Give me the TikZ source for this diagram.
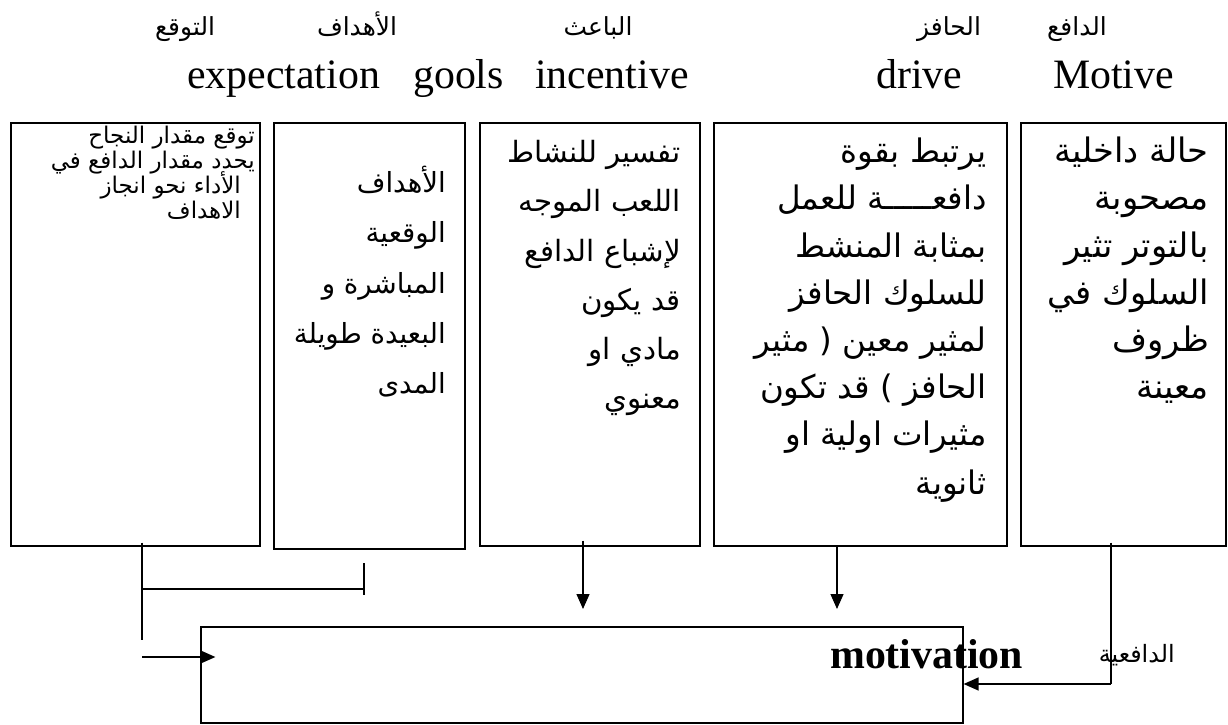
\documentclass[tikz,border=0pt]{standalone}
\usepackage{fontspec}
\setmainfont{Liberation Serif}
\newfontfamily\arabicfont[Script=Arabic]{DejaVu Sans}
\TeXXeTstate=1
\usetikzlibrary{arrows.meta}
\newlength\artmpw
\newcommand\ArReset{\global\artmpw=0pt\relax}
\newcommand\ArMeas[1]{\setbox0=\hbox{\fontsize{10}{12}\arabicfont #1}\ifdim\wd0>\artmpw\global\artmpw=\wd0\relax\fi}
\newcommand\ArSize[2]{\pgfmathsetmacro\artmpsz{10*#2*1.00375/\artmpw}\global\let#1\artmpsz}
\AtBeginDocument{%
  \ArReset\ArMeas{\beginR الأهداف\endR}\ArSize\fsLab{80}%
  \ArReset\ArMeas{\beginR توقع مقدار النجاح\endR}\ArMeas{\beginR يحدد مقدار الدافع في\endR}\ArSize\fsA{204}%
  \ArReset\ArMeas{\beginR البعيدة طويلة\endR}\ArMeas{\beginR المباشرة و\endR}\ArSize\fsB{152}%
  \ArReset\ArMeas{\beginR تفسير للنشاط\endR}\ArMeas{\beginR اللعب الموجه\endR}\ArMeas{\beginR لإشباع الدافع\endR}\ArSize\fsC{173}%
  \ArReset\ArMeas{\beginR لمثير معين ( مثير\endR}\ArMeas{\beginR الحافز ) قد تكون\endR}\ArSize\fsD{232}%
  \ArReset\ArMeas{\beginR حالة داخلية\endR}\ArMeas{\beginR بالتوتر تثير\endR}\ArMeas{\beginR السلوك في\endR}\ArSize\fsE{161}%
  \ArReset\ArMeas{\beginR الدافعية\endR}\ArSize\fsF{76}%
}
\begin{document}
\begin{tikzpicture}[x=1bp,y=-1bp,
  box/.style={draw,line width=1.2bp,inner sep=0,rectangle},
  eng/.style={anchor=base west,inner sep=0,font=\fontsize{42}{48}\selectfont},
  lab/.style={anchor=base,inner sep=0,font=\fontsize{\fsLab}{\fsLab}\arabicfont},
  tA/.style={anchor=base east,inner sep=0,font=\fontsize{\fsA}{\fsA}\arabicfont},
  tB/.style={anchor=base east,inner sep=0,font=\fontsize{\fsB}{\fsB}\arabicfont},
  tC/.style={anchor=base east,inner sep=0,font=\fontsize{\fsC}{\fsC}\arabicfont},
  tD/.style={anchor=base east,inner sep=0,font=\fontsize{\fsD}{\fsD}\arabicfont},
  tE/.style={anchor=base east,inner sep=0,font=\fontsize{\fsE}{\fsE}\arabicfont},
  ln/.style={line width=1.3bp},
  arr/.style={line width=1.3bp,-{Triangle[length=15bp,width=13bp]}}]
\useasboundingbox (0,0) rectangle (1228,725);
\fill[white] (0,0) rectangle (1228,725);

% top Arabic labels
\node[lab] (t1) at (185,36) {\beginR التوقع\endR};
\node[lab] (t2) at (357,36) {\beginR الأهداف\endR};
\node[lab] (t3) at (598,36) {\beginR الباعث\endR};
\node[lab] (t4) at (949,36) {\beginR الحافز\endR};
\node[lab] (t5) at (1077,36) {\beginR الدافع\endR};

% English labels
\node[eng] (e1) at (187,89) {expectation};
\node[eng] (e2) at (413,89) {gools};
\node[eng] (e3) at (535,89) {incentive};
\node[eng] (e4) at (876,89) {drive};
\node[eng] (e5) at (1053,89) {Motive};

% boxes
\node[box,minimum width=249bp,minimum height=423bp] (b1) at (135.5,334.5) {};
\node[box,minimum width=191bp,minimum height=426bp] (b2) at (369.5,336) {};
\node[box,minimum width=220bp,minimum height=423bp] (b3) at (590,334.5) {};
\node[box,minimum width=293bp,minimum height=423bp] (b4) at (860.5,334.5) {};
\node[box,minimum width=205bp,minimum height=423bp] (b5) at (1123.5,334.5) {};
\node[box,minimum width=762bp,minimum height=96bp] (m) at (582,675) {};

% box 1
\node[tA] (b1l1) at (255,144) {\beginR توقع مقدار النجاح\endR};
\node[tA] (b1l2) at (255,169) {\beginR يحدد مقدار الدافع في\endR};
\node[tA] (b1l3) at (241,194) {\beginR الأداء نحو انجاز\endR};
\node[tA] (b1l4) at (241,219) {\beginR الاهداف\endR};
% box 2
\node[tB] (b2l1) at (446,193) {\beginR الأهداف\endR};
\node[tB] (b2l2) at (446,243) {\beginR الوقعية\endR};
\node[tB] (b2l3) at (446,293) {\beginR المباشرة و\endR};
\node[tB] (b2l4) at (446,343) {\beginR البعيدة طويلة\endR};
\node[tB] (b2l5) at (446,393) {\beginR المدى\endR};
% box 3
\node[tC] (b3l1) at (681,163) {\beginR تفسير للنشاط\endR};
\node[tC] (b3l2) at (681,212) {\beginR اللعب الموجه\endR};
\node[tC] (b3l3) at (681,261) {\beginR لإشباع الدافع\endR};
\node[tC] (b3l4) at (681,310) {\beginR قد يكون\endR};
\node[tC] (b3l5) at (681,359) {\beginR مادي او\endR};
\node[tC] (b3l6) at (681,408) {\beginR معنوي\endR};
% box 4
\node[tD] (b4l1) at (987,163) {\beginR يرتبط بقوة\endR};
\node[tD] (b4l2) at (987,210) {\beginR دافعـــــة للعمل\endR};
\node[tD] (b4l3) at (987,257) {\beginR بمثابة المنشط\endR};
\node[tD] (b4l4) at (987,304) {\beginR للسلوك الحافز\endR};
\node[tD] (b4l5) at (987,351) {\beginR لمثير معين ( مثير\endR};
\node[tD] (b4l6) at (987,398) {\beginR الحافز ) قد تكون\endR};
\node[tD] (b4l7) at (987,445) {\beginR مثيرات اولية او\endR};
\node[tD] (b4l8) at (987,494) {\beginR ثانوية\endR};
% box 5
\node[tE] (b5l1) at (1209,163) {\beginR حالة داخلية\endR};
\node[tE] (b5l2) at (1209,210) {\beginR مصحوبة\endR};
\node[tE] (b5l3) at (1209,257) {\beginR بالتوتر تثير\endR};
\node[tE] (b5l4) at (1209,304) {\beginR السلوك في\endR};
\node[tE] (b5l5) at (1209,351) {\beginR ظروف\endR};
\node[tE] (b5l6) at (1209,398) {\beginR معينة\endR};

% motivation label
\node[anchor=base west,inner sep=0,font=\fontsize{42}{48}\selectfont\bfseries] (mt) at (830,668) {motivation};
\node[anchor=base east,inner sep=0,font=\fontsize{\fsF}{\fsF}\arabicfont] (md) at (1175,662) {\beginR الدافعية\endR};

% connectors
\coordinate (c1) at (142,640);
\coordinate (h1) at (143,589);
\coordinate (h2) at (364,589);
\coordinate (k1) at (364,563);
\coordinate (k2) at (364,595);
\coordinate (la) at (142,657);
\coordinate (a3) at (583,609);
\coordinate (a4) at (837,609);
\coordinate (r1) at (1111,684);

\draw[ln] ([yshift=4bp]c1 |- b1.south) -- (c1);
\draw[ln] (h1) -- (h2);
\draw[ln] (k1) -- (k2);
\draw[arr] (la) -- ([xshift=15bp]la -| m.west);
\draw[arr] ([yshift=6bp]a3 |- b3.south) -- (a3);
\draw[arr] (a4 |- b4.south) -- (a4);
\draw[ln] ([yshift=4bp]r1 |- b5.south) -- (r1);
\draw[arr] (r1) -- (r1 -| m.east);
\end{tikzpicture}
\end{document}
